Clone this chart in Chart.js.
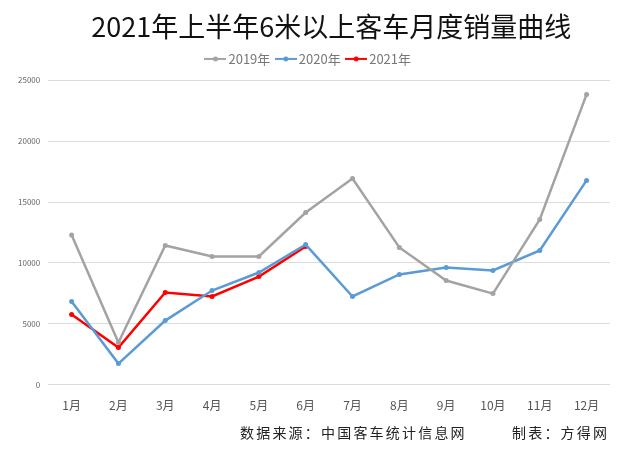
<!DOCTYPE html>
<html>
<head>
<meta charset="utf-8">
<script src="https://cdn.jsdelivr.net/npm/chart.js@4.4.1/dist/chart.umd.min.js"></script>
<style>
  body { margin: 0; background: #fff; }
  #wrap { width: 630px; height: 450px; }
</style>
</head>
<body>
<div id="wrap"><canvas id="lineChart" width="630" height="450"></canvas></div>
<script>
// 月份
const months = ['1月', '2月', '3月', '4月', '5月', '6月', '7月', '8月', '9月', '10月', '11月', '12月'];
// 各年销量（辆）
const sales2019 = [12300, 3450, 11430, 10530, 10530, 14140, 16940, 11270, 8550, 7480, 13570, 23850];
const sales2020 = [6830, 1730, 5260, 7730, 9210, 11510, 7240, 9050, 9620, 9380, 11020, 16780];
const sales2021 = [5760, 3040, 7570, 7240, 8880, 11350];
const seriesNames = ['2019年', '2020年', '2021年'];
const seriesColors = ['#a3a3a3', '#5b9bd5', '#ff0000'];
const sourceText = '数据来源：中国客车统计信息网';
const makerText = '制表：方得网';

const font = '"Noto Sans CJK SC", "Noto Sans", sans-serif';

// 图例标记：线 + 圆点
function legendMarker(color) {
    const c = document.createElement('canvas');
    c.width = 22; c.height = 8;
    const g = c.getContext('2d');
    g.strokeStyle = color;
    g.lineWidth = 2;
    g.beginPath(); g.moveTo(0, 4); g.lineTo(22, 4); g.stroke();
    g.fillStyle = color;
    g.beginPath(); g.arc(11, 4, 2.5, 0, Math.PI * 2); g.fill();
    return c;
}

function makeSet(i, values) {
    return {
        label: seriesNames[i],
        data: values,
        borderColor: seriesColors[i],
        backgroundColor: seriesColors[i],
        borderWidth: 2.5,
        pointRadius: 2.5,
        pointBackgroundColor: seriesColors[i],
        pointBorderWidth: 0,
        tension: 0,
        fill: false
    };
}

// 底部的来源说明
const footerPlugin = {
    id: 'footerNote',
    afterDraw(chart) {
        const g = chart.ctx;
        g.save();
        g.font = '14px ' + font;
        g.fillStyle = '#222';
        g.textBaseline = 'middle';
        g.textAlign = 'left';
        g.letterSpacing = '2.2px';
        g.fillText(sourceText, 240, 433);
        g.fillText(makerText, 512, 433);
        g.restore();
    }
};

// 图例下方多留一点空白
const legendGap = {
    id: 'legendGap',
    beforeLayout(chart) {
        const lg = chart.legend;
        if (lg && !lg._gapPatched) {
            const fit = lg.fit;
            lg.fit = function () { fit.call(this); this.height += 5; };
            lg._gapPatched = true;
        }
    }
};

const ctx = document.getElementById('lineChart').getContext('2d');
new Chart(ctx, {
    type: 'line',
    data: {
        labels: months,
        datasets: [makeSet(0, sales2019), makeSet(1, sales2020), makeSet(2, sales2021)]
    },
    plugins: [footerPlugin, legendGap],
    options: {
        responsive: false,
        devicePixelRatio: 1,
        animation: false,
        layout: { padding: { left: 10, right: 20, top: 11, bottom: 31 } },
        plugins: {
            title: {
                display: true,
                text: '\u00a0\u00a0\u00a0\u00a0\u00a0\u00a0\u00a02021年上半年6米以上客车月度销量曲线',
                color: '#111',
                font: { family: font, size: 27, weight: 'normal' },
                padding: { top: 0, bottom: 0 }
            },
            legend: {
                display: true,
                position: 'top',
                labels: {
                    color: '#777',
                    font: { family: font, size: 13 },
                    usePointStyle: true,
                    boxHeight: 8,
                    padding: 9,
                    generateLabels: chart => chart.data.datasets.map((ds, i) => ({
                        text: ds.label,
                        pointStyle: legendMarker(seriesColors[i]),
                        fontColor: '#777',
                        datasetIndex: i,
                        hidden: false,
                        lineWidth: 0
                    }))
                }
            },
            tooltip: { enabled: false }
        },
        scales: {
            x: {
                offset: true,
                grid: { display: false },
                border: { display: false },
                ticks: { color: '#555', font: { family: font, size: 12 }, padding: 6 }
            },
            y: {
                min: 0,
                max: 25000,
                grid: { color: '#dcdcdc', lineWidth: 1, drawTicks: false },
                border: { display: false },
                ticks: {
                    stepSize: 5000,
                    color: '#666',
                    font: { family: font, size: 8 },
                    padding: 8,
                    callback: v => String(v)
                }
            }
        }
    }
});
</script>
</body>
</html>
